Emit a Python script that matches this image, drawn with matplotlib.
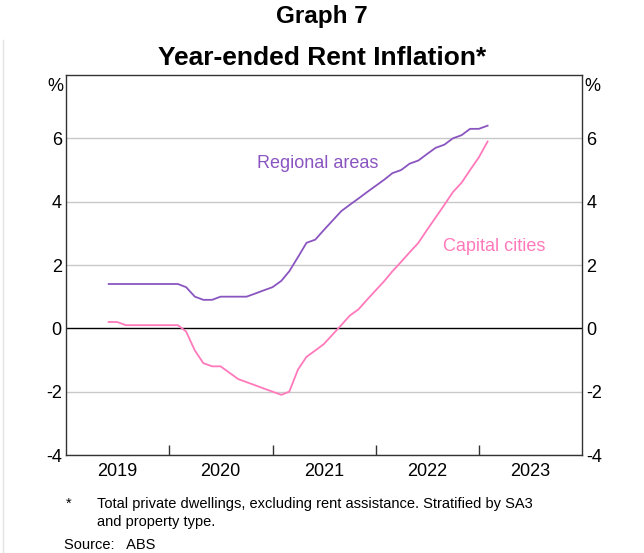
import matplotlib
matplotlib.use('Agg')
import matplotlib.pyplot as plt
from matplotlib.lines import Line2D
import pandas as pd
import datetime as dt

plt.rcParams['font.family'] = ['Liberation Sans', 'DejaVu Sans']

# monthly observations, Jun 2019 - Feb 2023
months = pd.date_range('2019-06-01', '2023-02-01', freq='MS')

regional = [1.4, 1.4, 1.4, 1.4, 1.4, 1.4, 1.4, 1.4, 1.4,
            1.3, 1.0, 0.9, 0.9, 1.0, 1.0, 1.0, 1.0, 1.1, 1.2, 1.3,
            1.5, 1.8, 2.25, 2.7, 2.8, 3.1, 3.4, 3.7, 3.9, 4.1, 4.3,
            4.5, 4.7, 4.9, 5.0, 5.2, 5.3, 5.5, 5.7, 5.8, 6.0, 6.1,
            6.3, 6.3, 6.4]

capital = [0.2, 0.2, 0.1, 0.1, 0.1, 0.1, 0.1, 0.1, 0.1,
           -0.1, -0.7, -1.1, -1.2, -1.2, -1.4, -1.6, -1.7, -1.8, -1.9, -2.0,
           -2.1, -2.0, -1.3, -0.9, -0.7, -0.5, -0.2, 0.1, 0.4, 0.6, 0.9,
           1.2, 1.5, 1.8, 2.1, 2.4, 2.7, 3.1, 3.5, 3.9, 4.3, 4.6,
           5.0, 5.4, 5.9]

yticks = [-4, -2, 0, 2, 4, 6]
years = [2019, 2020, 2021, 2022, 2023]

purple = '#8a55c0'
pink = '#ff79bb'

fig = plt.figure(figsize=(6.44, 5.53), dpi=100)
ax = fig.add_axes([66/644, 1 - 455/553, 516/644, 380/553])

for y in yticks:
    if y != 0:
        ax.axhline(y, color='#c8c8c8', lw=1.0, zorder=1)
ax.axhline(0, color='black', lw=1.0, zorder=2)

ax.plot(months, regional, color=purple, lw=1.3, zorder=3)
ax.plot(months, capital, color=pink, lw=1.3, zorder=3)

ax.set_xlim(dt.date(2019, 1, 1), dt.date(2024, 1, 1))
ax.set_ylim(-4, 8)

# year ticks at boundaries, labels centred in each year
ax.set_xticks([dt.date(y, 1, 1) for y in years[1:]])
ax.set_xticklabels([])
ax.set_xticks([dt.date(y, 7, 1) for y in years], minor=True)
ax.set_xticklabels([str(y) for y in years], minor=True, fontsize=13)
ax.tick_params(axis='x', which='major', direction='in', length=7, width=1, color='#333333')
ax.tick_params(axis='x', which='minor', length=0, pad=6)

ax.set_yticks(yticks)
ax.set_yticklabels([str(y) for y in yticks], fontsize=13)
ax.tick_params(axis='y', length=0, pad=3, labelright=True, right=False)

for s in ax.spines.values():
    s.set_color('#333333')
    s.set_linewidth(1.0)

ax.text(-0.005, 0.97, '%', transform=ax.transAxes, ha='right', va='center', fontsize=13)
ax.text(1.005, 0.97, '%', transform=ax.transAxes, ha='left', va='center', fontsize=13)

ax.text(dt.date(2021, 6, 10), 5.22, 'Regional areas', color=purple, fontsize=13, ha='center', va='center')
ax.text(dt.date(2023, 2, 25), 2.59, 'Capital cities', color=pink, fontsize=13, ha='center', va='center')

fig.text(0.5, 1 - 16/553, 'Graph 7', ha='center', va='center', fontsize=17.5, fontweight='bold')
fig.text(0.5, 1 - 58/553, 'Year-ended Rent Inflation*', ha='center', va='center', fontsize=19, fontweight='bold')

fig.text(66/644, 1 - 504/553, '*', ha='left', va='center', fontsize=10.5)
fig.text(97/644, 1 - 504/553, 'Total private dwellings, excluding rent assistance. Stratified by SA3',
         ha='left', va='center', fontsize=10.5)
fig.text(97/644, 1 - 522/553, 'and property type.', ha='left', va='center', fontsize=10.5)
fig.text(64/644, 1 - 545/553, 'Source:   ABS', ha='left', va='center', fontsize=10.5)

# faint frame edge on the left of the source image
fig.add_artist(Line2D([3/644, 3/644], [0, 1 - 40/553], color='#e4e4e4', lw=1.0,
                      transform=fig.transFigure))

fig.savefig('out.png', dpi=100)
